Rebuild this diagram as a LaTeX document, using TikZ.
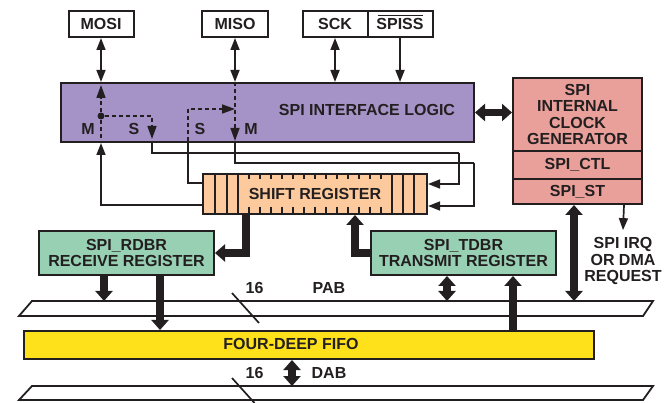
\documentclass[tikz,border=0pt]{standalone}
\usepackage{fontspec}
\setmainfont{Liberation Sans}
\usetikzlibrary{arrows.meta,calc}
\definecolor{txt}{HTML}{231F20}
\definecolor{purp}{HTML}{A593C7}
\definecolor{pinkc}{HTML}{E9A09A}
\definecolor{orng}{HTML}{FCCA9C}
\definecolor{grn}{HTML}{97D0B3}
\definecolor{yel}{HTML}{FEE01B}
\begin{document}
\begin{tikzpicture}[x=1pt,y=-1pt,
  lbl/.style={text=txt, font=\bfseries\fontsize{16}{16.5}\selectfont, inner sep=0pt, align=center},
  box/.style={lbl, draw=txt, line width=2pt},
  ln/.style={draw=txt, line width=1.7pt},
  arr/.style={ln, -{Triangle[length=12pt,width=9pt]}},
  darr/.style={ln, {Triangle[length=12pt,width=9pt]}-{Triangle[length=12pt,width=9pt]}},
  dsh/.style={ln, dash pattern=on 4pt off 3pt},
  fat/.style={draw=txt, line width=7.5pt, line join=miter, -{Triangle[length=10pt,width=17pt]}},
  dfat/.style={draw=txt, line width=7.5pt, {Triangle[length=10pt,width=17pt]}-{Triangle[length=10pt,width=17pt]}},
  bus/.style={draw=txt, line width=1.8pt, fill=white}]
\useasboundingbox (0,0) rectangle (672,403);

% buses
\draw[bus] (32,301) -- (653,301) -- (643,316) -- (19,316) -- cycle;
\draw[bus] (32,386) -- (653,386) -- (643,400) -- (19,400) -- cycle;
\coordinate (pab) at (0,301);
\coordinate (dab) at (0,386);
\coordinate (sl1a) at (232,293); \coordinate (sl1b) at (259,323);
\coordinate (sl2a) at (232,378); \coordinate (sl2b) at (254.5,403);
\draw[ln] (sl1a) -- (sl1b);
\draw[ln] (sl2a) -- (sl2b);
\node[lbl] (n16a) at (254.5,288) {16};
\node[lbl] (pabl) at (329,288) {PAB};
\node[lbl] (n16b) at (254.5,373) {16};
\node[lbl] (dabl) at (329,373) {DAB};

% top pins
\node[box, fill=white, minimum width=65pt, minimum height=26pt] (mosi) at (101,24) {MOSI};
\node[box, fill=white, minimum width=66pt, minimum height=26pt] (miso) at (235,24) {MISO};
\node[box, fill=white, minimum width=65pt, minimum height=26pt] (sck) at (335,24) {SCK};
\node[box, fill=white, minimum width=65pt, minimum height=26pt] (spiss) at (400,24) {SPISS};
\draw[draw=txt, line width=1.3pt] ([shift={(-22.5pt,8.3pt)}]spiss.center) -- ([shift={(22.5pt,8.3pt)}]spiss.center);

% interface logic
\node[box, fill=purp, minimum width=413pt, minimum height=59pt, anchor=north west] (sil) at (60,82) {};
\node[lbl] (silt) at (367,110) {SPI INTERFACE LOGIC};
\node[lbl] (m1) at (88,129) {M};
\node[lbl] (s1l) at (134,129) {S};
\node[lbl] (s2l) at (200,129) {S};
\node[lbl] (m2) at (251,129) {M};

% clock generator
\node[box, fill=pinkc, minimum width=129pt, minimum height=73pt, anchor=north west] (clk) at (512,77) {SPI\\INTERNAL\\CLOCK\\GENERATOR};
\node[box, fill=pinkc, minimum width=129pt, minimum height=28pt, anchor=north west] (ctl) at (512,150) {SPI\_CTL};
\node[box, fill=pinkc, minimum width=129pt, minimum height=25pt, anchor=north west] (st) at (512,178) {SPI\_ST};

% shift register
\node[box, fill=orng, minimum width=224pt, minimum height=40pt, anchor=north west] (sr) at (202,173) {SHIFT REGISTER};
\foreach \x in {215,227,238,392,403,414} \draw[ln, line width=1.4pt] (\x,173) -- (\x,213);
\foreach \i in {1,...,13} {
  \draw[ln, line width=1.4pt] (238+11*\i,173) -- (238+11*\i,179);
  \draw[ln, line width=1.4pt] (238+11*\i,207) -- (238+11*\i,213);
}

% data registers
\node[box, fill=grn, minimum width=175pt, minimum height=44pt, anchor=north west] (rdbr) at (38,230) {SPI\_RDBR\\RECEIVE REGISTER};
\node[box, fill=grn, minimum width=185pt, minimum height=44pt, anchor=north west] (tdbr) at (370,230) {SPI\_TDBR\\TRANSMIT REGISTER};

% FIFO
\node[box, fill=yel, minimum width=570pt, minimum height=28pt, anchor=north west] (fifo) at (23,330) {};
\node[lbl] (fifot) at (291,344) {FOUR-DEEP FIFO};

% IRQ text
\node[lbl] (irq) at (623,261) {SPI IRQ\\OR DMA\\REQUEST};

% pin arrows
\draw[darr] (mosi.south) -- (mosi.south |- sil.north);
\draw[darr] (miso.south) -- (miso.south |- sil.north);
\draw[darr] (sck.south) -- (sck.south |- sil.north);
\draw[arr] (spiss.south) -- (spiss.south |- sil.north);

% inner routing
\node[circle, fill=txt, inner sep=0pt, minimum size=7pt] (dot) at (101,116) {};
\coordinate (s1) at (152,141);
\coordinate (s2) at (188,141);
\coordinate (s2t) at (188,109);
\coordinate (r1) at (459,153);
\coordinate (r2) at (474,163);
\draw[dsh, -{Triangle[length=13pt,width=9pt]}] (dot) -- ([yshift=-3pt]dot |- sil.north);
\draw[dsh] (dot) -- (dot |- sil.south);
\draw[dsh, -{Triangle[length=13pt,width=9pt]}] (dot) -| ([yshift=2pt]s1);
\draw[dsh, -{Triangle[length=13pt,width=9pt]}] (miso.south |- sil.north) -- ([yshift=2pt]miso.south |- sil.south);
\draw[dsh, -{Triangle[length=13pt,width=9pt]}] (s2) -- (s2t) -- (s2t -| miso.south);

\draw[ln] (s1) |- (r1);
\draw[arr] (r1) |- ([yshift=10pt]sr.east);
\draw[ln] (miso.south |- sil.south) |- (r2);
\draw[arr] (r2) |- ([yshift=-12pt]sr.east);
\draw[ln] (s2) |- ([yshift=11pt]sr.west);
\draw[arr] ([yshift=-11pt]sr.west) -| (dot |- sil.south);

% thick data paths
\draw[dfat] (sil.east) -- (clk.west |- sil.east);
\draw[fat] ([xshift=-69pt]sr.south) |- (rdbr.east);
\draw[fat] (tdbr.west) -| ([xshift=40pt]sr.south);
\draw[fat] ([xshift=-22.5pt]rdbr.south) -- ([xshift=-22.5pt]rdbr.south |- pab);
\draw[fat] ([xshift=33.5pt]rdbr.south) -- ([xshift=33.5pt]rdbr.south |- fifo.north);
\draw[dfat] ([xshift=-16.5pt]tdbr.south) -- ([xshift=-16.5pt]tdbr.south |- pab);
\draw[fat] ([xshift=49.5pt]tdbr.south |- fifo.north) -- ([xshift=49.5pt]tdbr.south);
\draw[dfat] ([xshift=-3.5pt]st.south) -- ([xshift=-3.5pt]st.south |- pab);
\draw[dfat] ([xshift=-17pt]fifo.south) -- ([xshift=-17pt]fifo.south |- dab);
\draw[arr] ([xshift=46.5pt]st.south) -- ([yshift=7pt]irq.north);
\end{tikzpicture}
\end{document}
